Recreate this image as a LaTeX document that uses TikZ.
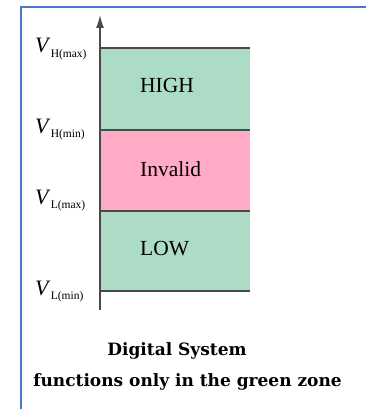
\documentclass[tikz,border=0pt]{standalone}
\usepackage{fontspec}
\setmainfont{Liberation Serif}
\newfontfamily\captionfont{DejaVu Serif}
\usetikzlibrary{arrows.meta}
\definecolor{frameblue}{HTML}{4A78CC}
\definecolor{zonegreen}{HTML}{ACDBC6}
\definecolor{zonepink}{HTML}{FFABC6}
\definecolor{edgegray}{HTML}{4A4A4A}
\tikzset{
  level/.style={draw=edgegray, line width=1.4pt},
  zonetext/.style={anchor=base west, inner sep=0pt, font=\fontsize{21.5}{22}\selectfont, text=black},
  vlabel/.style={anchor=base west, inner sep=0pt, font=\fontsize{22}{22}\selectfont},
  caption/.style={anchor=base, inner sep=0pt, font=\captionfont\bfseries\fontsize{17}{17}\selectfont}
}
\newcommand{\vsub}[2]{\textit{V}\raisebox{-4.5pt}{\fontsize{11.5}{11.5}\selectfont #1(#2)}}
\begin{document}
\begin{tikzpicture}[x=1pt, y=-1pt]
  \useasboundingbox (0,0) rectangle (366,409);
  \fill[white] (0,0) rectangle (366,409);
  % frame edges
  \draw[frameblue, line width=2pt] (21,409) -- (21,7) -- (366,7);
  % voltage bands
  \fill[zonegreen] (100,48) rectangle (250,130);
  \fill[zonepink] (100,130) rectangle (250,211);
  \fill[zonegreen] (100,211) rectangle (250,291);
  \draw[level] (100,48) -- (250,48);
  \draw[level] (100,130) -- (250,130);
  \draw[level] (100,211) -- (250,211);
  \draw[level] (100,291) -- (250,291);
  % voltage axis
  \coordinate (axisbot) at (100,310);
  \coordinate (axistop) at (100,15);
  \draw[edgegray, line width=1.3pt, -{Latex[length=13pt,width=8pt]}] (axisbot) -- (axistop);
  % zone names
  \node[zonetext] (high) at (140,93) {HIGH};
  \node[zonetext] (invalid) at (140,176.5) {Invalid};
  \node[zonetext] (low) at (140,255.5) {LOW};
  % threshold labels
  \node[vlabel] (vhmax) at (35,53) {\vsub{H}{max}};
  \node[vlabel] (vhmin) at (35,133) {\vsub{H}{min}};
  \node[vlabel] (vlmax) at (35,204) {\vsub{L}{max}};
  \node[vlabel] (vlmin) at (35,295) {\vsub{L}{min}};
  % caption
  \node[caption] (cap1) at (177,355) {Digital System};
  \node[caption] (cap2) at (187.5,386) {functions only in the green zone};
\end{tikzpicture}
\end{document}
